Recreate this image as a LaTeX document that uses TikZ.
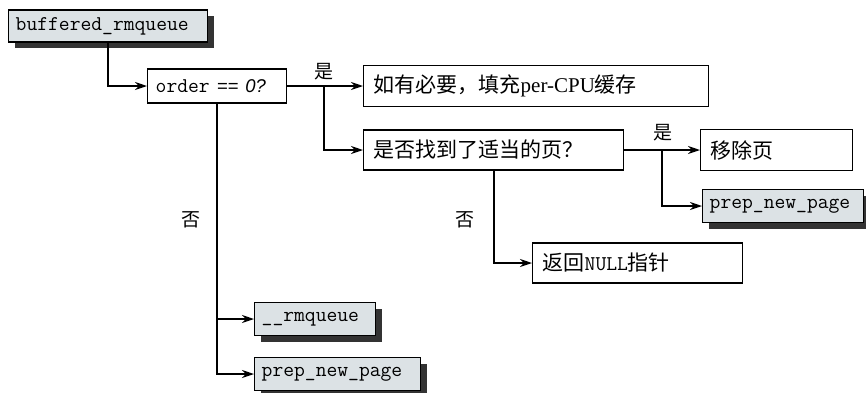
\documentclass[tikz,border=0pt]{standalone}
\usepackage{fontspec}
\setmainfont{Liberation Serif}
\newfontfamily\cjk{Noto Sans CJK SC}
\newfontfamily\hsans{Liberation Sans}
\usetikzlibrary{arrows.meta,shadows}
\definecolor{boxfill}{HTML}{DCE2E5}
\definecolor{shadowgray}{HTML}{333333}
\tikzset{
  base/.style={draw=black, line width=1.4pt, inner ysep=0pt, anchor=west, align=left},
  plainbox/.style={base, fill=white, inner xsep=10pt, font=\fontsize{21}{24}\selectfont},
  codebox/.style={base, fill=boxfill, inner xsep=7pt,
    drop shadow={shadow xshift=6pt, shadow yshift=-6pt, fill=shadowgray, opacity=1},
    font=\fontsize{21}{24}\ttfamily},
  conn/.style={line width=2pt, -{Stealth[length=12pt,width=8pt,inset=4pt]}},
  lbl/.style={font=\cjk\fontsize{19}{21}\selectfont, inner sep=0pt}
}
\begin{document}
\begin{tikzpicture}[x=1pt,y=-1pt]
\useasboundingbox (0,0) rectangle (866,392);
% boxes
\node[codebox, text width=185pt, minimum height=32pt] (buf) at (8,26) {buffered\_rmqueue};
\node[plainbox, inner xsep=8pt, text width=123pt, minimum height=34pt] (order) at (147,86)
  {{\fontsize{21}{24}\ttfamily order} {\hsans\itshape\fontsize{18.5}{22}\selectfont == 0?}};
\node[plainbox, text width=325pt, minimum height=41pt] (fill) at (363,86)
  {{\cjk 如有必要，填充}per-CPU{\cjk 缓存}};
\node[plainbox, text width=240pt, minimum height=40pt] (found) at (363,150)
  {\cjk 是否找到了适当的页？};
\node[plainbox, text width=132pt, minimum height=41pt] (remove) at (700,150)
  {\cjk 移除页};
\node[codebox, text width=147pt, minimum height=33pt] (prepa) at (702,206) {prep\_new\_page};
\node[plainbox, text width=190pt, minimum height=40pt] (null) at (532,263)
  {{\cjk 返回}{\ttfamily NULL}{\cjk 指针}};
\node[codebox, text width=107pt, minimum height=33pt] (rmq) at (254,319) {\_\_rmqueue};
\node[codebox, text width=152pt, minimum height=33pt] (prepb) at (254,374) {prep\_new\_page};
% labels
\node[lbl] (yes1) at (324,72) {是};
\node[lbl] (yes2) at (663,133) {是};
\node[lbl] (no1) at (191,220) {否};
\node[lbl] (no2) at (465,220) {否};
% branch points
\coordinate (br1) at (324,86);
\coordinate (br2) at (662,150);
% connectors
\draw[conn] (buf.south) |- (order.west);
\draw[conn] (order.east) -- (fill.west);
\draw[conn] (br1) |- (found.west);
\draw[conn] (found.east) -- (remove.west);
\draw[conn] (br2) |- (prepa.west);
\draw[conn] (found.south) |- (null.west);
\draw[conn] (order.south) |- (rmq.west);
\draw[conn] (order.south) |- (prepb.west);
\end{tikzpicture}
\end{document}
